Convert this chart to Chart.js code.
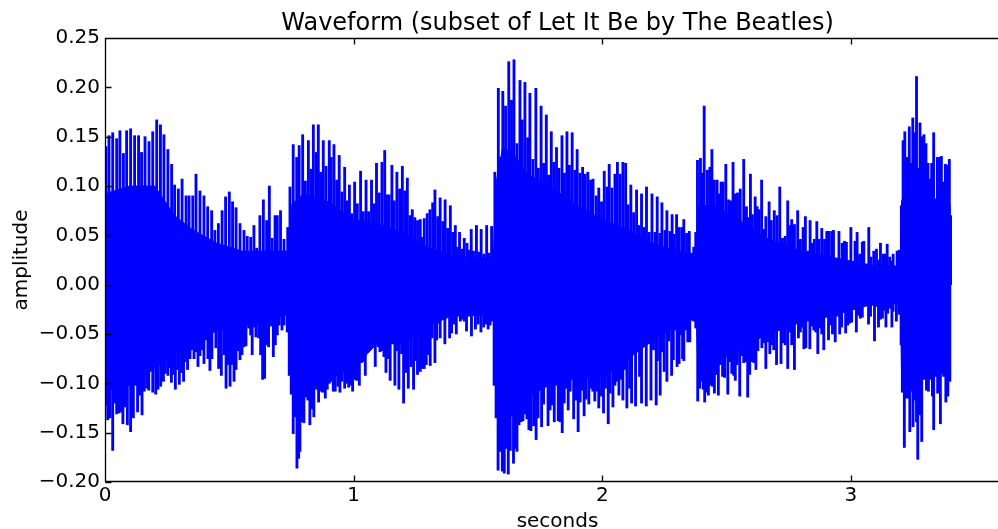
<!DOCTYPE html>
<html>
<head>
<meta charset="utf-8">
<script src="https://cdn.jsdelivr.net/npm/chart.js@4.4.1/dist/chart.umd.min.js"></script>
<style>
  html, body { margin: 0; padding: 0; background: #fff; overflow: hidden; }
  #wrap { width: 998px; height: 529px; overflow: hidden; }
</style>
</head>
<body>
<div id="wrap"><canvas id="wave" width="1012" height="529"></canvas></div>
<script>
const chartTitle = 'Waveform (subset of Let It Be by The Beatles)';
const xLabel = 'seconds';
const yLabel = 'amplitude';

const secondTicks = [0, 1, 2, 3];
const ampTicks = [-0.20, -0.15, -0.10, -0.05, 0.00, 0.05, 0.10, 0.15, 0.20, 0.25];

// positive peaks: time (s) and amplitude
const upperTime = [
  0.004,0.016,0.031,0.047,0.060,0.074,0.087,0.103,0.119,0.135,
  0.147,0.161,0.177,0.192,0.208,0.223,0.237,0.253,0.268,0.280,
  0.295,0.310,0.326,0.338,0.353,0.366,0.382,0.398,0.413,0.429,
  0.442,0.456,0.471,0.485,0.500,0.513,0.527,0.543,0.559,0.572,
  0.586,0.599,0.610,0.623,0.637,0.650,0.661,0.672,0.684,0.693,
  0.706,0.720,0.735,0.744,0.757,0.771,0.781,0.795,0.806,0.818,
  0.828,0.838,0.849,0.858,0.867,0.878,0.889,0.902,0.910,0.921,
  0.932,0.942,0.953,0.964,0.975,0.983,0.993,1.004,1.015,1.028,
  1.039,1.050,1.060,1.072,1.082,1.092,1.103,1.114,1.125,1.135,
  1.143,1.154,1.163,1.174,1.185,1.196,1.206,1.216,1.226,1.236,
  1.246,1.257,1.268,1.273,1.284,1.296,1.307,1.318,1.327,1.338,
  1.348,1.359,1.368,1.378,1.389,1.399,1.409,1.418,1.426,1.435,
  1.445,1.456,1.464,1.473,1.482,1.494,1.504,1.513,1.524,1.535,
  1.545,1.555,1.568,1.572,1.582,1.591,1.600,1.611,1.624,1.635,
  1.645,1.657,1.669,1.678,1.689,1.700,1.709,1.721,1.733,1.743,
  1.754,1.764,1.775,1.784,1.795,1.805,1.816,1.826,1.838,1.848,
  1.858,1.868,1.879,1.890,1.899,1.910,1.921,1.931,1.942,1.953,
  1.963,1.976,1.986,1.997,2.008,2.019,2.028,2.039,2.051,2.061,
  2.072,2.083,2.094,2.104,2.115,2.126,2.138,2.147,2.158,2.169,
  2.178,2.189,2.200,2.212,2.221,2.232,2.240,2.252,2.260,2.272,
  2.281,2.289,2.299,2.309,2.320,2.328,2.339,2.350,2.360,2.368,
  2.376,2.383,2.395,2.403,2.410,2.423,2.433,2.441,2.451,2.462,
  2.470,2.478,2.486,2.497,2.508,2.517,2.526,2.535,2.544,2.555,
  2.569,2.580,2.588,2.596,2.604,2.615,2.623,2.631,2.641,2.650,
  2.658,2.671,2.680,2.692,2.703,2.714,2.725,2.736,2.746,2.754,
  2.762,2.773,2.786,2.797,2.808,2.817,2.827,2.836,2.845,2.853,
  2.863,2.872,2.883,2.894,2.903,2.912,2.923,2.930,2.942,2.952,
  2.965,2.974,2.982,2.992,3.000,3.009,3.017,3.025,3.035,3.046,
  3.052,3.062,3.072,3.081,3.092,3.103,3.111,3.119,3.130,3.138,
  3.146,3.156,3.162,3.170,3.178,3.186,3.194,3.203,3.210,3.217,
  3.226,3.235,3.241,3.249,3.257,3.264,3.270,3.278,3.286,3.294,
  3.302,3.310,3.317,3.325,3.333,3.341,3.348,3.357,3.364,3.372,
  3.380,3.388,3.396,3.401
];
const upperAmp = [
  0.140,0.151,0.154,0.148,0.156,0.133,0.156,0.158,0.151,0.151,
  0.134,0.150,0.145,0.155,0.167,0.162,0.152,0.137,0.122,0.101,
  0.097,0.107,0.090,0.090,0.090,0.112,0.095,0.090,0.079,0.075,
  0.055,0.062,0.075,0.089,0.094,0.084,0.078,0.062,0.055,0.049,
  0.048,0.060,0.037,0.070,0.086,0.065,0.100,0.047,0.070,0.070,
  0.075,0.046,0.058,0.099,0.142,0.129,0.141,0.152,0.105,0.146,
  0.117,0.162,0.134,0.162,0.114,0.146,0.120,0.146,0.129,0.142,
  0.106,0.131,0.094,0.119,0.085,0.101,0.072,0.104,0.082,0.115,
  0.074,0.106,0.074,0.106,0.082,0.123,0.093,0.124,0.136,0.091,
  0.091,0.121,0.085,0.114,0.097,0.120,0.095,0.108,0.070,0.076,
  0.068,0.065,0.066,0.048,0.067,0.072,0.076,0.083,0.096,0.069,
  0.088,0.064,0.086,0.057,0.080,0.053,0.060,0.038,0.053,0.036,
  0.047,0.042,0.035,0.056,0.034,0.060,0.033,0.056,0.031,0.060,
  0.032,0.059,0.114,0.085,0.199,0.129,0.196,0.181,0.226,0.187,
  0.228,0.143,0.207,0.167,0.205,0.149,0.194,0.127,0.199,0.118,
  0.181,0.123,0.172,0.111,0.155,0.124,0.139,0.118,0.151,0.113,
  0.155,0.121,0.154,0.116,0.137,0.113,0.119,0.112,0.114,0.106,
  0.107,0.090,0.098,0.084,0.115,0.099,0.122,0.098,0.112,0.124,
  0.112,0.124,0.123,0.081,0.101,0.073,0.096,0.060,0.092,0.058,
  0.099,0.053,0.092,0.053,0.089,0.052,0.083,0.055,0.075,0.054,
  0.071,0.051,0.071,0.058,0.058,0.066,0.052,0.054,0.032,0.038,
  0.053,0.126,0.128,0.113,0.181,0.116,0.119,0.137,0.106,0.106,
  0.092,0.104,0.104,0.122,0.086,0.085,0.124,0.092,0.093,0.097,
  0.127,0.079,0.068,0.112,0.071,0.089,0.079,0.076,0.106,0.056,
  0.069,0.084,0.065,0.075,0.070,0.099,0.047,0.049,0.085,0.060,
  0.066,0.061,0.075,0.046,0.058,0.069,0.034,0.065,0.042,0.046,
  0.064,0.046,0.057,0.046,0.054,0.054,0.054,0.055,0.024,0.054,
  0.042,0.044,0.043,0.019,0.058,0.015,0.044,0.053,0.031,0.043,
  0.044,0.020,0.058,0.028,0.034,0.036,0.025,0.042,0.031,0.031,
  0.041,0.028,0.024,0.031,0.015,0.034,0.035,0.080,0.146,0.155,
  0.129,0.160,0.123,0.169,0.154,0.211,0.118,0.164,0.150,0.152,
  0.143,0.123,0.107,0.123,0.154,0.086,0.129,0.129,0.130,0.104,
  0.122,0.121,0.127,0.070
];

// negative peaks: time (s) and amplitude
const lowerTime = [
  0.004,0.011,0.020,0.031,0.039,0.047,0.056,0.064,0.072,0.082,
  0.090,0.103,0.114,0.123,0.131,0.141,0.149,0.158,0.168,0.176,
  0.184,0.192,0.204,0.213,0.224,0.235,0.243,0.253,0.261,0.267,
  0.275,0.283,0.292,0.299,0.308,0.316,0.324,0.332,0.342,0.350,
  0.358,0.366,0.374,0.382,0.390,0.398,0.406,0.414,0.422,0.430,
  0.438,0.446,0.457,0.468,0.479,0.487,0.495,0.503,0.511,0.519,
  0.527,0.535,0.543,0.551,0.559,0.567,0.578,0.586,0.592,0.599,
  0.607,0.618,0.626,0.634,0.642,0.650,0.658,0.669,0.677,0.685,
  0.693,0.701,0.712,0.720,0.725,0.733,0.741,0.749,0.757,0.765,
  0.772,0.779,0.784,0.792,0.800,0.808,0.816,0.824,0.832,0.840,
  0.851,0.859,0.867,0.875,0.886,0.894,0.902,0.910,0.918,0.926,
  0.937,0.945,0.953,0.964,0.972,0.980,0.988,0.996,1.004,1.012,
  1.023,1.031,1.039,1.047,1.055,1.066,1.076,1.087,1.098,1.106,
  1.114,1.122,1.130,1.138,1.147,1.155,1.166,1.174,1.182,1.193,
  1.201,1.210,1.220,1.230,1.241,1.249,1.257,1.268,1.276,1.284,
  1.292,1.300,1.308,1.316,1.327,1.334,1.340,1.348,1.356,1.367,
  1.375,1.386,1.394,1.402,1.413,1.421,1.429,1.437,1.445,1.454,
  1.464,1.474,1.482,1.490,1.501,1.512,1.523,1.533,1.541,1.549,
  1.557,1.565,1.573,1.581,1.590,1.598,1.606,1.614,1.622,1.630,
  1.638,1.643,1.651,1.657,1.665,1.673,1.681,1.689,1.697,1.705,
  1.713,1.724,1.734,1.742,1.750,1.756,1.764,1.775,1.782,1.790,
  1.799,1.807,1.815,1.823,1.831,1.839,1.847,1.855,1.863,1.871,
  1.885,1.895,1.903,1.911,1.919,1.927,1.935,1.946,1.954,1.962,
  1.970,1.978,1.986,1.997,2.005,2.013,2.024,2.032,2.043,2.051,
  2.058,2.067,2.075,2.083,2.091,2.099,2.110,2.118,2.126,2.134,
  2.142,2.150,2.158,2.166,2.177,2.185,2.196,2.206,2.217,2.222,
  2.233,2.241,2.249,2.260,2.268,2.279,2.286,2.293,2.301,2.309,
  2.317,2.323,2.328,2.336,2.344,2.352,2.360,2.368,2.376,2.384,
  2.392,2.398,2.406,2.412,2.419,2.427,2.435,2.443,2.451,2.459,
  2.467,2.475,2.484,2.492,2.497,2.505,2.513,2.521,2.529,2.535,
  2.543,2.553,2.561,2.569,2.577,2.585,2.593,2.601,2.610,2.618,
  2.626,2.634,2.642,2.650,2.658,2.666,2.674,2.682,2.690,2.701,
  2.709,2.719,2.727,2.736,2.746,2.754,2.762,2.773,2.781,2.789,
  2.797,2.805,2.811,2.819,2.827,2.835,2.843,2.851,2.859,2.867,
  2.875,2.883,2.891,2.899,2.910,2.918,2.926,2.937,2.945,2.955,
  2.963,2.971,2.979,2.987,2.995,3.003,3.017,3.022,3.030,3.038,
  3.046,3.054,3.062,3.071,3.079,3.087,3.095,3.103,3.111,3.119,
  3.127,3.133,3.141,3.148,3.156,3.165,3.170,3.178,3.183,3.194,
  3.202,3.207,3.215,3.223,3.231,3.237,3.245,3.250,3.258,3.264,
  3.269,3.277,3.285,3.293,3.304,3.312,3.320,3.328,3.333,3.341,
  3.349,3.360,3.368,3.373,3.382,3.390,3.398
];
const lowerAmp = [
  -0.122,-0.137,-0.135,-0.168,-0.120,-0.131,-0.130,-0.129,-0.141,-0.124,
  -0.142,-0.149,-0.135,-0.102,-0.129,-0.112,-0.132,-0.108,-0.105,-0.107,
  -0.083,-0.109,-0.111,-0.106,-0.103,-0.098,-0.090,-0.092,-0.084,-0.099,
  -0.091,-0.106,-0.086,-0.101,-0.089,-0.098,-0.078,-0.086,-0.075,-0.066,
  -0.075,-0.068,-0.083,-0.072,-0.066,-0.080,-0.056,-0.075,-0.087,-0.075,
  -0.047,-0.064,-0.085,-0.092,-0.071,-0.105,-0.081,-0.103,-0.081,-0.098,
  -0.086,-0.067,-0.076,-0.071,-0.063,-0.062,-0.044,-0.051,-0.071,-0.043,
  -0.053,-0.054,-0.071,-0.096,-0.095,-0.061,-0.063,-0.042,-0.073,-0.061,
  -0.051,-0.041,-0.046,-0.041,-0.031,-0.048,-0.092,-0.111,-0.151,-0.134,
  -0.186,-0.176,-0.169,-0.139,-0.140,-0.114,-0.117,-0.142,-0.126,-0.134,
  -0.106,-0.119,-0.108,-0.109,-0.115,-0.106,-0.100,-0.098,-0.108,-0.108,
  -0.103,-0.109,-0.098,-0.105,-0.100,-0.104,-0.102,-0.108,-0.096,-0.097,
  -0.102,-0.079,-0.078,-0.092,-0.063,-0.065,-0.061,-0.083,-0.063,-0.068,
  -0.067,-0.073,-0.089,-0.075,-0.097,-0.060,-0.102,-0.067,-0.106,-0.070,
  -0.120,-0.089,-0.105,-0.083,-0.106,-0.077,-0.091,-0.088,-0.085,-0.085,
  -0.081,-0.071,-0.082,-0.054,-0.079,-0.056,-0.039,-0.054,-0.030,-0.060,
  -0.032,-0.054,-0.049,-0.040,-0.050,-0.032,-0.037,-0.035,-0.037,-0.047,
  -0.032,-0.052,-0.029,-0.045,-0.040,-0.048,-0.043,-0.040,-0.045,-0.041,
  -0.037,-0.102,-0.135,-0.188,-0.169,-0.189,-0.191,-0.166,-0.192,-0.168,
  -0.133,-0.181,-0.166,-0.169,-0.142,-0.139,-0.138,-0.131,-0.136,-0.147,
  -0.148,-0.143,-0.157,-0.135,-0.099,-0.144,-0.121,-0.098,-0.143,-0.127,
  -0.122,-0.139,-0.102,-0.138,-0.139,-0.150,-0.120,-0.105,-0.127,-0.108,
  -0.136,-0.117,-0.149,-0.119,-0.107,-0.133,-0.116,-0.121,-0.105,-0.108,
  -0.118,-0.108,-0.125,-0.113,-0.130,-0.105,-0.141,-0.110,-0.124,-0.102,
  -0.098,-0.112,-0.096,-0.117,-0.086,-0.125,-0.105,-0.120,-0.047,-0.123,
  -0.052,-0.093,-0.120,-0.062,-0.123,-0.060,-0.117,-0.066,-0.122,-0.077,
  -0.112,-0.068,-0.088,-0.098,-0.057,-0.092,-0.076,-0.046,-0.083,-0.080,
  -0.051,-0.075,-0.077,-0.046,-0.058,-0.058,-0.036,-0.037,-0.044,-0.118,
  -0.105,-0.098,-0.106,-0.119,-0.109,-0.112,-0.102,-0.103,-0.110,-0.091,
  -0.112,-0.081,-0.093,-0.094,-0.068,-0.111,-0.078,-0.090,-0.092,-0.097,
  -0.081,-0.113,-0.072,-0.079,-0.078,-0.114,-0.091,-0.078,-0.079,-0.086,
  -0.067,-0.044,-0.064,-0.059,-0.085,-0.058,-0.070,-0.061,-0.066,-0.081,
  -0.042,-0.080,-0.059,-0.061,-0.085,-0.048,-0.061,-0.086,-0.039,-0.054,
  -0.048,-0.043,-0.065,-0.064,-0.029,-0.065,-0.042,-0.046,-0.048,-0.070,
  -0.044,-0.050,-0.066,-0.031,-0.056,-0.041,-0.050,-0.058,-0.032,-0.050,
  -0.043,-0.026,-0.049,-0.041,-0.039,-0.038,-0.012,-0.048,-0.031,-0.034,
  -0.033,-0.021,-0.021,-0.040,-0.032,-0.021,-0.057,-0.022,-0.043,-0.035,
  -0.034,-0.026,-0.043,-0.029,-0.024,-0.043,-0.027,-0.016,-0.037,-0.030,
  -0.061,-0.109,-0.165,-0.115,-0.115,-0.149,-0.108,-0.144,-0.117,-0.139,
  -0.177,-0.132,-0.159,-0.096,-0.107,-0.108,-0.096,-0.113,-0.147,-0.093,
  -0.110,-0.141,-0.090,-0.093,-0.119,-0.113,-0.098
];

// dense core of the signal between the peaks
const bodyTime = [
  0, 0.1, 0.2, 0.28, 0.35, 0.45, 0.55, 0.65, 0.74, 0.752,
  0.8, 0.9, 1.0, 1.1, 1.2, 1.3, 1.4, 1.5, 1.562, 1.572,
  1.6, 1.65, 1.7, 1.8, 1.9, 2.0, 2.1, 2.2, 2.3, 2.378,
  2.386, 2.45, 2.55, 2.65, 2.8, 2.9, 3.0, 3.1, 3.2, 3.204,
  3.25, 3.3, 3.35, 3.402
];
const bodyTop = [
  0.092, 0.100, 0.100, 0.070, 0.056, 0.042, 0.034, 0.034, 0.034, 0.082,
  0.092, 0.084, 0.066, 0.062, 0.052, 0.038, 0.029, 0.027, 0.027, 0.102,
  0.140, 0.130, 0.112, 0.098, 0.080, 0.066, 0.056, 0.042, 0.034, 0.029,
  0.080, 0.080, 0.066, 0.048, 0.034, 0.029, 0.024, 0.019, 0.019, 0.085,
  0.108, 0.094, 0.085, 0.080
];
const bodyBottom = [
  -0.108, -0.102, -0.085, -0.070, -0.057, -0.047, -0.042, -0.038, -0.029, -0.095,
  -0.108, -0.095, -0.085, -0.058, -0.061, -0.042, -0.031, -0.031, -0.031, -0.112,
  -0.150, -0.125, -0.114, -0.100, -0.095, -0.094, -0.076, -0.057, -0.042, -0.033,
  -0.095, -0.080, -0.066, -0.052, -0.038, -0.033, -0.026, -0.019, -0.019, -0.095,
  -0.095, -0.090, -0.085, -0.085
];

const BLUE = '#0000ff';
const FONT = '"DejaVu Sans", sans-serif';

const toPoints = (xs, ys) => xs.map((x, i) => ({ x: x, y: ys[i] }));

// spines, inward ticks on all four sides, title and axis labels
const frame = {
  id: 'frame',
  afterDatasetsDraw(chart) {
    const { ctx, chartArea: a, scales } = chart;
    const L = Math.round(a.left) + 0.5;
    const R = Math.round(a.right) - 0.5;
    const T = Math.round(a.top) + 0.5;
    const B = Math.round(a.bottom) - 0.5;
    ctx.save();
    ctx.strokeStyle = '#000';
    ctx.lineWidth = 1.3;
    ctx.beginPath();
    ctx.rect(L, T, R - L, B - T);
    secondTicks.forEach(v => {
      const px = Math.round(scales.x.getPixelForValue(v)) + 0.5;
      ctx.moveTo(px, B); ctx.lineTo(px, B - 6);
      ctx.moveTo(px, T); ctx.lineTo(px, T + 6);
    });
    ampTicks.forEach(v => {
      const py = Math.round(scales.y.getPixelForValue(v)) + 0.5;
      ctx.moveTo(L, py); ctx.lineTo(L + 6, py);
      ctx.moveTo(R, py); ctx.lineTo(R - 6, py);
    });
    ctx.stroke();

    ctx.fillStyle = '#000';
    ctx.textAlign = 'center';
    ctx.textBaseline = 'alphabetic';
    const cx = (a.left + a.right) / 2;
    ctx.font = '24px ' + FONT;
    ctx.fillText(chartTitle, cx, 29.5);
    ctx.font = '20px ' + FONT;
    ctx.fillText(xLabel, cx, 527);
    ctx.translate(27, (a.top + a.bottom) / 2);
    ctx.rotate(-Math.PI / 2);
    ctx.fillText(yLabel, 0, 0);
    ctx.restore();
  }
};

new Chart(document.getElementById('wave'), {
  type: 'bar',
  data: {
    datasets: [
      {
        // core band, filled down to the bottom edge in the next dataset
        type: 'line',
        data: toPoints(bodyTime, bodyTop),
        borderColor: BLUE, backgroundColor: BLUE, borderWidth: 1,
        pointRadius: 0, tension: 0, fill: '+1'
      },
      {
        type: 'line',
        data: toPoints(bodyTime, bodyBottom),
        borderColor: BLUE, backgroundColor: BLUE, borderWidth: 1,
        pointRadius: 0, tension: 0, fill: false
      },
      {
        data: toPoints(upperTime, upperAmp),
        backgroundColor: BLUE, borderWidth: 0,
        barThickness: 2.2, grouped: false
      },
      {
        data: toPoints(lowerTime, lowerAmp),
        backgroundColor: BLUE, borderWidth: 0,
        barThickness: 2.2, grouped: false
      }
    ]
  },
  options: {
    responsive: false,
    animation: false,
    devicePixelRatio: 1,
    layout: { padding: { top: 38, right: 2, left: 0, bottom: 0 } },
    plugins: { legend: { display: false }, tooltip: { enabled: false }, title: { display: false } },
    scales: {
      x: {
        type: 'linear', min: 0, max: 3.64, offset: false,
        grid: { display: false, drawTicks: false },
        border: { display: false },
        afterBuildTicks: s => { s.ticks = secondTicks.map(v => ({ value: v })); },
        afterFit: s => { s.height = 47; },
        ticks: {
          color: '#000', font: { family: FONT, size: 20 }, padding: 2,
          autoSkip: false, maxRotation: 0,
          callback: v => String(v)
        }
      },
      y: {
        type: 'linear', min: -0.2, max: 0.25,
        grid: { display: false, drawTicks: false },
        border: { display: false },
        afterBuildTicks: s => { s.ticks = ampTicks.map(v => ({ value: v })); },
        afterFit: s => { s.width = 105; },
        ticks: {
          color: '#000', font: { family: FONT, size: 20 }, padding: 5,
          callback: v => v.toFixed(2).replace('-', '\u2212')
        }
      }
    }
  },
  plugins: [frame]
});
</script>
</body>
</html>
